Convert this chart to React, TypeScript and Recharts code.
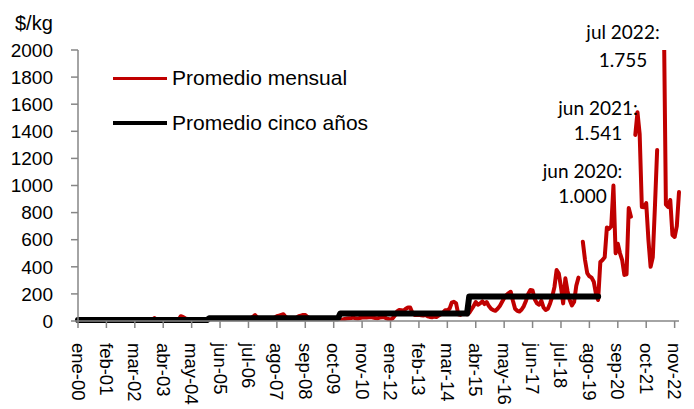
import React from 'react';
import { LineChart, Line, XAxis, YAxis, Legend } from 'recharts';

// ---- data ----
const monthNames = ['ene', 'feb', 'mar', 'abr', 'may', 'jun', 'jul', 'ago', 'sep', 'oct', 'nov', 'dic'];

// Promedio mensual ($/kg) per year (2011 has no "dic" value in the source)
const m2000 = [4, 5, 4, 6, 5, 4, 5, 6, 5, 4, 5, 6];
const m2001 = [5, 6, 5, 6, 7, 6, 5, 6, 7, 6, 5, 6];
const m2002 = [6, 7, 6, 8, 7, 6, 7, 8, 7, 6, 7, 22];
const m2003 = [8, 9, 10, 12, 15, 10, 9, 8, 10, 12, 9, 35];
const m2004 = [30, 20, 15, 12, 10, 12, 14, 12, 10, 12, 15, 14];
const m2005 = [12, 10, 8, 6, 5, 8, 10, 3, 2, 2, 3, 6];
const m2006 = [10, 12, 15, 14, 12, 10, 12, 20, 30, 44, 25, 18];
const m2007 = [15, 12, 10, 8, 12, 18, 25, 35, 40, 45, 50, 30];
const m2008 = [20, 15, 12, 15, 25, 35, 40, 45, 44, 30, 20, 15];
const m2009 = [12, 10, 8, 6, 5, 8, 10, 12, 15, 12, 10, 8];
const m2010 = [10, 12, 15, 18, 20, 22, 25, 20, 18, 22, 25, 28];
const m2011 = [25, 28, 30, 25, 22, 20, 25, 28, 30, 20, 15];
const m2012 = [10, 20, 40, 70, 81, 80, 75, 90, 100, 100, 60, 45];
const m2013 = [45, 45, 42, 40, 45, 35, 30, 28, 32, 30, 40, 50];
const m2014 = [60, 80, 80, 90, 135, 142, 130, 50, 45, 55, 60, 50];
const m2015 = [60, 85, 110, 140, 120, 130, 145, 125, 140, 110, 90, 80];
const m2016 = [75, 90, 110, 140, 170, 190, 206, 216, 150, 90, 75, 70];
const m2017 = [85, 110, 150, 200, 229, 225, 160, 130, 120, 150, 100, 81];
const m2018 = [90, 130, 180, 250, 376, 350, 250, 130, 315, 220, 155, 115];
const m2019 = [140, 260, 320, null, 585, 450, 354, 330, 320, 290, 200, 155];
const m2020 = [435, 450, 470, 690, 680, 700, 1000, 500, 570, 500, 450, 340];
const m2021 = [345, 834, 770, null, 1373, 1541, 1380, 841, 840, 870, 600, 400];
const m2022 = [470, 850, 1262, null, null, 2350, 860, 841, 893, 635, 620, 700];
const m2023 = [952];

const mensualByYear = [
  m2000, m2001, m2002, m2003, m2004, m2005, m2006, m2007, m2008, m2009, m2010, m2011,
  m2012, m2013, m2014, m2015, m2016, m2017, m2018, m2019, m2020, m2021, m2022, m2023,
];

// Promedio cinco años
const fiveYearStart = [2000, 2005, 2010, 2015];
const fiveYearEnd = [2004, 2009, 2014, 2019];
const fiveYearValue = [7, 20, 55, 180];

const yTicks = [0, 200, 400, 600, 800, 1000, 1200, 1400, 1600, 1800, 2000];

const annotations = [
  { line1: 'jul 2022:', line2: '1.755', cx: 623, y1: 39, y2: 66.5 },
  { line1: 'jun 2021:', line2: '1.541', cx: 598, y1: 114.5, y2: 140 },
  { line1: 'jun 2020:', line2: '1.000', cx: 582.5, y1: 177.5, y2: 202.5 },
];

const legendItems = [
  { label: 'Promedio mensual', color: '#C00000', width: 3 },
  { label: 'Promedio cinco años', color: '#000000', width: 4 },
];

// ---- build table ----
type Row = { mes: string; mensual: number | null; cinco: number | null };
const data: Row[] = [];
mensualByYear.forEach((vals, k) => {
  const year = 2000 + k;
  const p = fiveYearStart.findIndex((s, j) => year >= s && year <= fiveYearEnd[j]);
  vals.forEach((v, m) => {
    data.push({
      mes: `${monthNames[m]}-${String(year % 100).padStart(2, '0')}`,
      mensual: v,
      cinco: p >= 0 ? fiveYearValue[p] : null,
    });
  });
});

const FONT = "'Liberation Sans', Arial, sans-serif";
const AXIS_COLOR = '#868686';

const XTick = (props: any) => {
  const { x, y, payload } = props;
  return (
    <text
      x={x}
      y={y}
      transform={`rotate(90, ${x}, ${y})`}
      textAnchor="start"
      dominantBaseline="central"
      fontSize={18.5}
      fontFamily={FONT}
      fill="#000"
    >
      {payload.value}
    </text>
  );
};

const renderLegend = () => (
  <div style={{ fontFamily: FONT, fontSize: 21, color: '#000' }}>
    {legendItems.map((it, i) => (
      <div
        key={it.label}
        style={{ display: 'flex', alignItems: 'center', height: 28, marginBottom: i === 0 ? 17 : 0, whiteSpace: 'nowrap' }}
      >
        <div style={{ width: 54, height: it.width, background: it.color, marginRight: 5 }} />
        <span style={{ lineHeight: '28px' }}>{it.label}</span>
      </div>
    ))}
  </div>
);

export default function App() {
  return (
    <div style={{ position: 'absolute', left: 0, top: 0, width: 694, height: 409, background: '#fff' }}>
      <LineChart width={694} height={409} data={data} margin={{ top: 50, right: 15, bottom: 0, left: 0 }}>
        <XAxis
          dataKey="mes"
          interval={12}
          tickSize={7}
          tickMargin={15}
          height={88}
          axisLine={{ stroke: AXIS_COLOR, strokeWidth: 1.5 }}
          tickLine={{ stroke: AXIS_COLOR, strokeWidth: 1.5 }}
          tick={<XTick />}
        />
        <YAxis
          yAxisId="left"
          domain={[0, 2000]}
          ticks={yTicks}
          allowDataOverflow
          width={78}
          tickSize={7}
          tickMargin={18}
          axisLine={{ stroke: AXIS_COLOR, strokeWidth: 1.5 }}
          tickLine={{ stroke: AXIS_COLOR, strokeWidth: 1.5 }}
          tick={{ fontSize: 19, fontFamily: FONT, fill: '#000' }}
        />
        <YAxis yAxisId="avg" orientation="right" hide width={0} domain={[0, 2000]} ticks={yTicks} />
        <Legend
          layout="vertical"
          align="center"
          verticalAlign="middle"
          content={renderLegend}
          wrapperStyle={{ left: 113, top: 64, width: 320, height: 80 }}
        />
        <Line
          yAxisId="left"
          type="linear"
          dataKey="mensual"
          name="Promedio mensual"
          stroke="#C00000"
          strokeWidth={4}
          strokeLinejoin="round"
          strokeLinecap="round"
          dot={false}
          activeDot={false}
          isAnimationActive={false}
        />
        <Line
          yAxisId="avg"
          type="linear"
          dataKey="cinco"
          name="Promedio cinco años"
          stroke="#000000"
          strokeWidth={6}
          strokeLinejoin="round"
          strokeLinecap="round"
          dot={false}
          activeDot={false}
          isAnimationActive={false}
        />
      </LineChart>
      <svg
        width={694}
        height={409}
        style={{ position: 'absolute', left: 0, top: 0, pointerEvents: 'none' }}
      >
        <text x={15} y={29.5} fontSize={20} fontFamily={FONT} fill="#000">$/kg</text>
        {annotations.map((a) => (
          <g key={a.line1} fontFamily="Lato, 'Open Sans', sans-serif" fontSize={19} fill="#000" textAnchor="middle">
            <text x={a.cx} y={a.y1}>{a.line1}</text>
            <text x={a.cx} y={a.y2}>{a.line2}</text>
          </g>
        ))}
      </svg>
    </div>
  );
}
